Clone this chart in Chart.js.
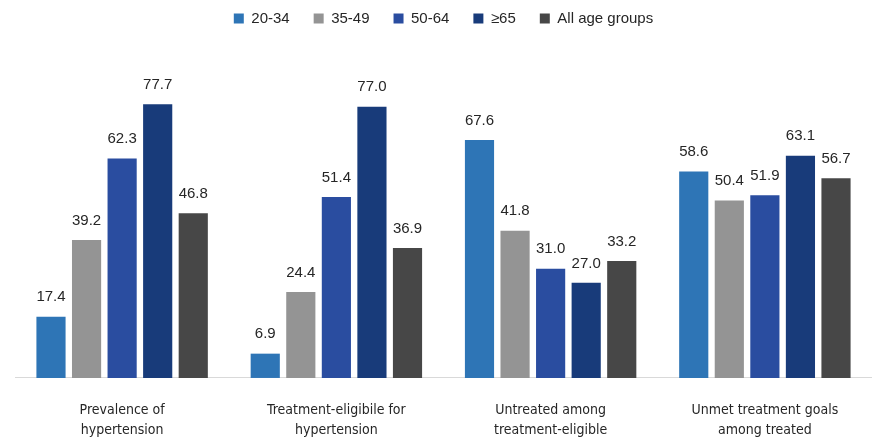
<!DOCTYPE html>
<html><head><meta charset="utf-8">
<script src="https://cdn.jsdelivr.net/npm/chart.js@4/dist/chart.umd.min.js"></script>
<style>html,body{margin:0;padding:0;background:#fff}#wrap{width:872px;height:438px}</style>
</head><body><div id="wrap"><canvas id="c" width="872" height="438"></canvas></div>
<script>
const categories = [["Prevalence of","hypertension"],["Treatment-eligibile for","hypertension"],["Untreated among","treatment-eligible"],["Unmet treatment goals","among treated"]];
const seriesNames = ["20-34","35-49","50-64","\u226565","All age groups"];
const v2034 = [17.4, 6.9, 67.6, 58.6];
const v3549 = [39.2, 24.4, 41.8, 50.4];
const v5064 = [62.3, 51.4, 31.0, 51.9];
const v65 = [77.7, 77.0, 27.0, 63.1];
const vAll = [46.8, 36.9, 33.2, 56.7];
const colors = ["#2E75B6","#949494","#2A4DA0","#183B7A","#474747"];
const values = [v2034, v3549, v5064, v65, vAll];

const labelPlugin = {
  id: 'vals',
  afterDatasetsDraw(chart) {
    const ctx = chart.ctx;
    ctx.save();
    ctx.font = '15px "Liberation Sans", Arial, sans-serif';
    ctx.fillStyle = '#262626';
    ctx.textAlign = 'center';
    ctx.textBaseline = 'bottom';
    chart.data.datasets.forEach((ds, i) => {
      chart.getDatasetMeta(i).data.forEach((bar, j) => {
        ctx.fillText(ds.data[j].toFixed(1), bar.x, bar.y - 12);
      });
    });
    ctx.restore();
  }
};

new Chart(document.getElementById('c'), {
  type: 'bar',
  data: {
    labels: categories,
    datasets: seriesNames.map((n, i) => ({
      label: n, data: values[i], backgroundColor: colors[i],
      categoryPercentage: 0.83, barPercentage: 0.82
    }))
  },
  options: {
    responsive: false, animation: false,
    layout: { padding: { left: 15, right: 0, top: -13, bottom: -24 } },
    plugins: {
      legend: {
        position: 'top',
        labels: { boxWidth: 10, boxHeight: 10, padding: 24, color: '#262626',
          font: { family: '"Liberation Sans", Arial, sans-serif', size: 15 } }
      },
      tooltip: { enabled: false }
    },
    scales: {
      y: { display: false, min: 0, max: 97.1 },
      x: {
        grid: { display: false, drawTicks: false },
        border: { display: true, color: '#D9D9D9', width: 1 },
        ticks: { color: '#262626', padding: 22,
          font: { family: '"DejaVu Sans Condensed", "Liberation Sans Narrow", sans-serif', size: 14, lineHeight: 1.43 } }
      }
    }
  },
  plugins: [labelPlugin]
});
</script></body></html>
